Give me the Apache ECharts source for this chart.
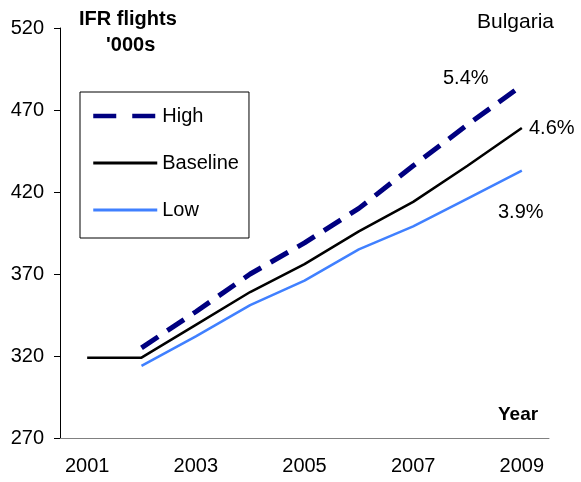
<!DOCTYPE html>
<html>
<head>
<meta charset="utf-8">
<script src="https://cdn.jsdelivr.net/npm/echarts@6/dist/echarts.min.js"></script>
<style>
  html, body { margin: 0; padding: 0; background: #fff; }
  #chart { width: 581px; height: 482px; }
</style>
</head>
<body>
<div id="chart"></div>
<script>
  // data
  const years = ['2001', '2002', '2003', '2004', '2005', '2006', '2007', '2008', '2009'];
  const high = [null, 325, 347, 370, 389, 410, 436, 461, 485];
  const baseline = [319, 319, 339, 359, 376, 396, 414, 436, 459];
  const low = [null, 314, 332, 351, 366, 385, 399, 416, 433];
  const growth = ['5.4%', '4.6%', '3.9%'];

  const font = 'Liberation Sans, Arial, sans-serif';
  const chart = echarts.init(document.getElementById('chart'));

  chart.setOption({
    animation: false,
    textStyle: { fontFamily: font },
    grid: { left: 60, top: 28, right: 32, bottom: 44 },
    legend: {
      orient: 'vertical',
      left: 80,
      top: 92,
      padding: [14, 10, 18, 11],
      borderColor: '#000',
      borderWidth: 1,
      itemWidth: 64,
      itemHeight: 16,
      itemGap: 27,
      itemStyle: { opacity: 0 },
      textStyle: { fontSize: 20, color: '#000', fontFamily: font },
      data: [
        { name: 'High', lineStyle: { type: [23, 16], width: 4.5 } },
        { name: 'Baseline', lineStyle: { width: 3 } },
        { name: 'Low', lineStyle: { width: 3 } }
      ]
    },
    xAxis: {
      type: 'category',
      data: years,
      boundaryGap: true,
      axisLine: { lineStyle: { color: '#808080', width: 1 } },
      axisTick: { interval: 0, length: 6, lineStyle: { color: '#000' } },
      axisLabel: { interval: 1, margin: 18, fontSize: 20, color: '#000' },
      splitLine: { show: false }
    },
    yAxis: {
      type: 'value',
      min: 270,
      max: 520,
      interval: 50,
      axisLine: { show: true, lineStyle: { color: '#000', width: 1 } },
      axisTick: { show: true, length: 6, lineStyle: { color: '#000' } },
      axisLabel: { margin: 16, fontSize: 20, color: '#000' },
      splitLine: { show: false }
    },
    series: [
      {
        name: 'High', type: 'line', data: high, symbol: 'none',
        lineStyle: { color: '#000080', width: 5, type: [20, 11] },
        itemStyle: { color: '#000080' }
      },
      {
        name: 'Baseline', type: 'line', data: baseline, symbol: 'none',
        lineStyle: { color: '#000', width: 2.5 },
        itemStyle: { color: '#000' }
      },
      {
        name: 'Low', type: 'line', data: low, symbol: 'none',
        lineStyle: { color: '#4080ff', width: 2.5 },
        itemStyle: { color: '#4080ff' }
      }
    ],
    graphic: [
      { type: 'text', left: 79, top: 9, style: { text: 'IFR flights', font: 'bold 20px ' + font, fill: '#000' } },
      { type: 'text', left: 106, top: 35, style: { text: "'000s", font: 'bold 20px ' + font, fill: '#000' } },
      { type: 'text', left: 477, top: 12, style: { text: 'Bulgaria', font: '21px ' + font, fill: '#000' } },
      { type: 'text', left: 443, top: 68, style: { text: growth[0], font: '20px ' + font, fill: '#000' } },
      { type: 'text', left: 529, top: 118, style: { text: growth[1], font: '20px ' + font, fill: '#000' } },
      { type: 'text', left: 498, top: 202, style: { text: growth[2], font: '20px ' + font, fill: '#000' } },
      { type: 'text', left: 498, top: 405, style: { text: 'Year', font: 'bold 19px ' + font, fill: '#000' } }
    ]
  });
</script>
</body>
</html>
